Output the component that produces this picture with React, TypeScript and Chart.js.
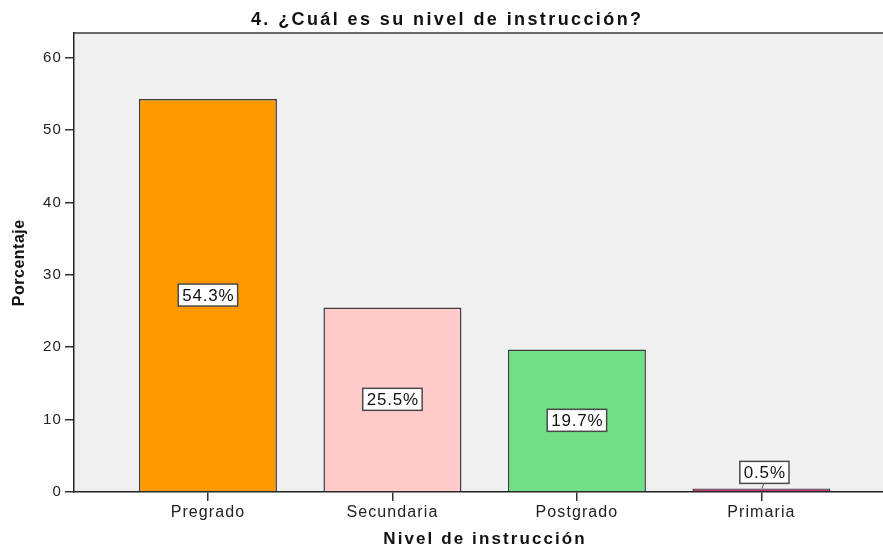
import React, { useEffect, useRef } from "react";
import { Chart, registerables } from "chart.js";

Chart.register(...registerables);

// ---- Data ----
const categories = ["Pregrado", "Secundaria", "Postgrado", "Primaria"];
const percentages = [54.3, 25.5, 19.7, 0.5];
const barColors = ["#fe9900", "#ffcaca", "#72de86", "#c43a78"];
const yTickValues = [0, 10, 20, 30, 40, 50, 60];
const titleText = "4. ¿Cuál es su nivel de instrucción?";
const xTitleText = "Nivel de instrucción";
const yTitleText = "Porcentaje";

const FONT = '"Liberation Sans", Arial, Helvetica, sans-serif';

function drawSpaced(
  ctx: CanvasRenderingContext2D,
  text: string,
  cx: number,
  baselineY: number,
  font: string,
  spacing: number,
  color: string
) {
  ctx.save();
  ctx.font = font;
  (ctx as any).letterSpacing = `${spacing}px`;
  ctx.textAlign = "left";
  ctx.textBaseline = "alphabetic";
  ctx.fillStyle = color;
  const w = ctx.measureText(text).width - spacing;
  ctx.fillText(text, cx - w / 2, baselineY);
  ctx.restore();
}

const decorPlugin = {
  id: "decor",
  beforeDraw(chart: any) {
    const { ctx, chartArea: a } = chart;
    ctx.save();
    ctx.fillStyle = "#f0f0f0";
    ctx.fillRect(a.left, a.top, a.right - a.left, a.bottom - a.top);
    ctx.strokeStyle = "#6a6a6a";
    ctx.lineWidth = 2;
    ctx.beginPath();
    ctx.moveTo(a.left, a.top);
    ctx.lineTo(a.right, a.top);
    ctx.stroke();
    ctx.restore();
    (ctx as any).letterSpacing = "1.1px";
  },
  afterDatasetsDraw(chart: any) {
    const { ctx } = chart;
    const meta = chart.getDatasetMeta(0);
    meta.data.forEach((bar: any, i: number) => {
      const p = bar.getProps(["x", "y", "base"], true);
      const text = `${percentages[i].toFixed(1)}%`;
      const spacing = 0.8;
      ctx.save();
      ctx.font = `17px ${FONT}`;
      (ctx as any).letterSpacing = `${spacing}px`;
      const tw = ctx.measureText(text).width - spacing;
      const boxW = tw + 8;
      const boxH = 22;
      const barH = p.base - p.y;
      const small = barH < boxH + 8;
      const cx = small ? p.x + 3 : p.x;
      const cy = small ? p.y - 5 - boxH / 2 : (p.y + p.base) / 2;
      if (small) {
        ctx.strokeStyle = "#555";
        ctx.lineWidth = 1;
        ctx.beginPath();
        ctx.moveTo(p.x + 0.5, p.y);
        ctx.lineTo(p.x + 2.5, cy + boxH / 2);
        ctx.stroke();
      }
      ctx.fillStyle = "#ffffff";
      ctx.fillRect(cx - boxW / 2, cy - boxH / 2, boxW, boxH);
      ctx.strokeStyle = "#4a4a4a";
      ctx.lineWidth = 1.5;
      ctx.strokeRect(cx - boxW / 2, cy - boxH / 2, boxW, boxH);
      ctx.fillStyle = "#111";
      ctx.textAlign = "left";
      ctx.textBaseline = "alphabetic";
      ctx.fillText(text, cx - tw / 2, cy + 6);
      ctx.restore();
    });
  },
  afterDraw(chart: any) {
    const { ctx } = chart;
    drawSpaced(ctx, titleText, 446, 25, `bold 18px ${FONT}`, 2.4, "#111");
    drawSpaced(ctx, xTitleText, 484, 544, `bold 17px ${FONT}`, 2.1, "#111");
    ctx.save();
    ctx.translate(24, 263);
    ctx.rotate(-Math.PI / 2);
    drawSpaced(ctx, yTitleText, 0, 0, `bold 16px ${FONT}`, 0.5, "#111");
    ctx.restore();
  },
};

export default function App() {
  const canvasRef = useRef<HTMLCanvasElement | null>(null);

  useEffect(() => {
    const canvas = canvasRef.current;
    if (!canvas) return;
    const chart = new Chart(canvas, {
      type: "bar",
      data: {
        datasets: [
          {
            data: categories.map((_, i) => ({ x: i, y: percentages[i] })),
            backgroundColor: barColors,
            borderColor: "#3c3c3c",
            borderWidth: 1.5,
            borderSkipped: "start",
            barPercentage: 0.748,
            categoryPercentage: 1,
          },
        ],
      },
      options: {
        responsive: false,
        animation: false,
        devicePixelRatio: 1,
        layout: { padding: { top: 33, left: 0, right: 0, bottom: 0 } },
        plugins: {
          legend: { display: false },
          title: { display: false },
          tooltip: { enabled: false },
        },
        scales: {
          x: {
            type: "linear",
            offset: false,
            min: -0.726,
            max: 3.659,
            grid: {
              display: true,
              offset: false,
              drawOnChartArea: false,
              drawTicks: true,
              tickLength: 9,
              color: "#333",
              lineWidth: 1.5,
            },
            border: { display: true, color: "#222", width: 1.5 },
            afterBuildTicks: (scale: any) => {
              scale.ticks = categories.map((_, i) => ({ value: i }));
            },
            afterFit: (scale: any) => {
              scale.height = 57;
            },
            ticks: {
              autoSkip: false,
              maxRotation: 0,
              minRotation: 0,
              padding: 2,
              color: "#222",
              font: { family: FONT, size: 16 },
              callback: (v: any) => categories[Math.round(Number(v))] ?? "",
            },
          },
          y: {
            type: "linear",
            min: 0,
            max: 63.4,
            grid: {
              display: true,
              drawOnChartArea: false,
              drawTicks: true,
              tickLength: 9,
              color: "#333",
              lineWidth: 1.5,
            },
            border: { display: true, color: "#222", width: 1.5 },
            afterBuildTicks: (scale: any) => {
              scale.ticks = yTickValues.map((v) => ({ value: v }));
            },
            afterFit: (scale: any) => {
              scale.width = 74;
            },
            ticks: {
              padding: 3,
              color: "#222",
              font: { family: FONT, size: 15 },
              callback: (v: any) => String(v),
            },
          },
        },
      },
      plugins: [decorPlugin],
    });
    return () => chart.destroy();
  }, []);

  return (
    <div style={{ position: "fixed", left: 0, top: 0, width: 883, height: 549, background: "#fff" }}>
      <canvas ref={canvasRef} width={883} height={549} style={{ display: "block" }} />
    </div>
  );
}
